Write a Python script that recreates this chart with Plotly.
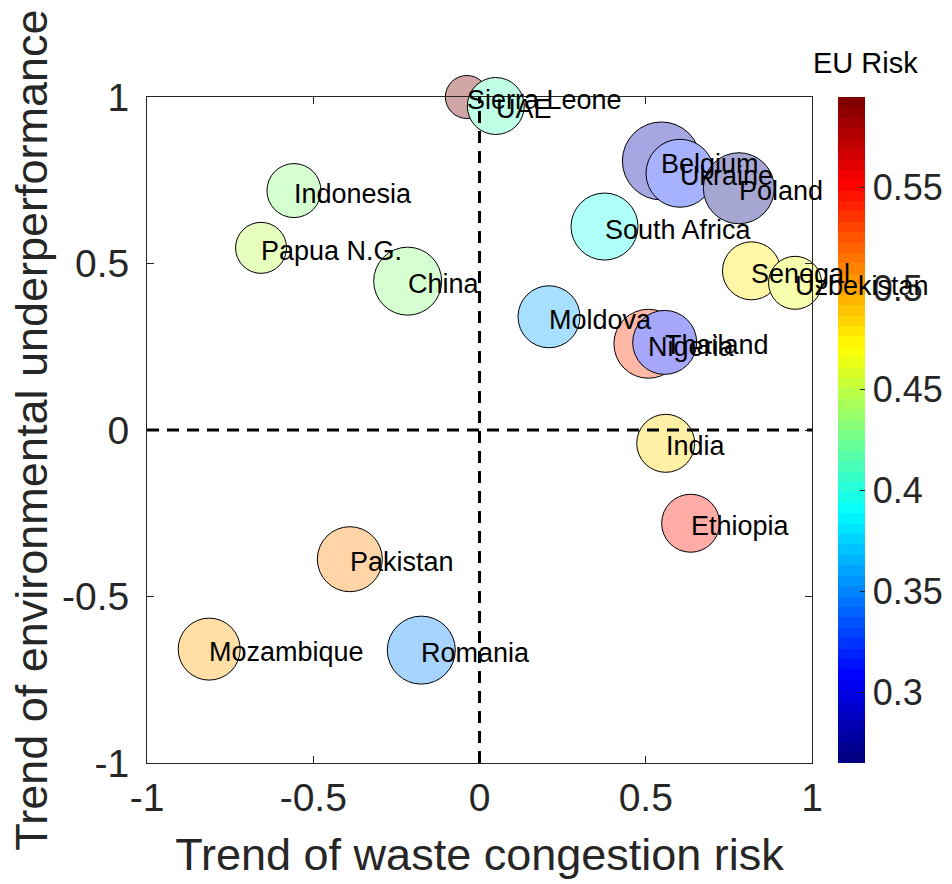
import plotly.graph_objects as go

# ---- data ----
countries = ["Belgium", "China", "Ethiopia", "India", "Indonesia", "Moldova",
             "Mozambique", "Nigeria", "Pakistan", "Papua N.G.",
             "Romania", "Senegal", "Sierra Leone", "South Africa", "Thailand",
             "UAE", "Ukraine", "Uzbekistan", "Poland"]
waste_trend = [0.547, -0.216, 0.635, 0.560, -0.558, 0.209,
               -0.813, 0.508, -0.390, -0.657,
               -0.175, 0.818, -0.038, 0.376, 0.557,
               0.049, 0.603, 0.949, 0.780]
env_trend = [0.808, 0.447, -0.280, -0.040, 0.719, 0.340,
             -0.658, 0.259, -0.388, 0.547,
             -0.661, 0.478, 1.000, 0.611, 0.263,
             0.973, 0.771, 0.442, 0.726]
eu_risk = [0.285, 0.435, 0.547, 0.482, 0.432, 0.358,
           0.500, 0.537, 0.509, 0.450,
           0.349, 0.477, 0.594, 0.395, 0.303,
           0.413, 0.321, 0.464, 0.270]
bubble_value = [78, 68, 58, 58, 54, 62,
                62, 69, 65, 51,
                68, 58, 43, 67, 64,
                57, 68, 53, 71]
x_ticks = [-1, -0.5, 0, 0.5, 1]
x_ticktext = ["-1", "-0.5", "0", "0.5", "1"]
y_ticks = [-1, -0.5, 0, 0.5, 1]
y_ticktext = ["-1", "-0.5", "0", "0.5", "1"]
cb_ticks = [0.3, 0.35, 0.4, 0.45, 0.5, 0.55]
cb_ticktext = ["0.3", "0.35", "0.4", "0.45", "0.5", "0.55"]
risk_min, risk_max = 0.265, 0.595

# ---- jet colormap (64 levels, stepped) ----
def jet(t):
    c = lambda v: max(0.0, min(1.0, v))
    return (c(1.5 - abs(4 * t - 3)), c(1.5 - abs(4 * t - 2)), c(1.5 - abs(4 * t - 1)))

def stepped(fade=None, n=64):
    scale = []
    for i in range(n):
        rgb = [v * 255 for v in jet(i / (n - 1))]
        if fade is not None:  # pale, opaque version (face alpha over white)
            rgb = [255 - fade * (255 - v) for v in rgb]
        col = "rgb({},{},{})".format(*[round(v) for v in rgb])
        scale.append([i / n, col])
        scale.append([(i + 1) / n, col])
    return scale

FONT = "Liberation Sans, Arial, sans-serif"
AX = "#262626"

fig = go.Figure()

fig.add_trace(go.Scatter(
    x=waste_trend, y=env_trend, mode="markers",
    marker=dict(size=bubble_value, sizemode="diameter", opacity=1,
                color=eu_risk, colorscale=stepped(0.35), cmin=risk_min, cmax=risk_max,
                showscale=False, line=dict(color="black", width=1)),
    cliponaxis=False, showlegend=False, hoverinfo="skip"))

# colorbar carrier
fig.add_trace(go.Scatter(
    x=waste_trend, y=env_trend, mode="markers",
    marker=dict(size=1, opacity=0, color=eu_risk, colorscale=stepped(None),
                cmin=risk_min, cmax=risk_max, showscale=True,
                colorbar=dict(x=(838 - 147) / 665, xanchor="left", xref="paper",
                              y=0.5, yanchor="middle", len=1, lenmode="fraction",
                              thickness=27, thicknessmode="pixels",
                              xpad=0, ypad=0, outlinewidth=0,
                              tickvals=cb_ticks, ticktext=cb_ticktext,
                              ticks="inside", ticklen=5, tickcolor=AX,
                              tickfont=dict(family=FONT, size=36, color=AX))),
    showlegend=False, hoverinfo="skip"))

fig.add_vline(x=0, line=dict(color="black", width=3, dash="12px,8px"), layer="above")
fig.add_hline(y=0, line=dict(color="black", width=3, dash="12px,8px"), layer="above")

for name, xv, yv in zip(countries, waste_trend, env_trend):
    fig.add_annotation(x=xv, y=yv, text=name, showarrow=False,
                       xanchor="left", yanchor="middle", yshift=-3, xshift=-2,
                       font=dict(family=FONT, size=27, color="black"))

fig.add_annotation(text="EU Risk", xref="paper", yref="paper",
                   x=(865 - 147) / 665, y=(763 - 63) / 666, xanchor="center", yanchor="middle",
                   showarrow=False, font=dict(family=FONT, size=29, color="black"))

axis_common = dict(range=[-1, 1], showgrid=False, zeroline=False,
                   showline=True, linecolor=AX, linewidth=1, mirror="allticks",
                   ticks="inside", ticklen=7, tickcolor=AX,
                   tickfont=dict(family=FONT, size=39, color=AX))

fig.update_xaxes(**axis_common, tickvals=x_ticks, ticktext=x_ticktext,
                 title=dict(text="Trend of waste congestion risk", standoff=20,
                            font=dict(family=FONT, size=45, color=AX)))
fig.update_yaxes(**axis_common, tickvals=y_ticks, ticktext=y_ticktext,
                 ticklabelstandoff=9,
                 title=dict(text="Trend of environmental underperformance", standoff=0,
                            font=dict(family=FONT, size=45, color=AX)))

fig.update_layout(width=952, height=884, autosize=False,
                  margin=dict(l=147, r=140, t=97, b=121, autoexpand=False),
                  paper_bgcolor="white", plot_bgcolor="white",
                  font=dict(family=FONT))

fig.write_html("out.html")
